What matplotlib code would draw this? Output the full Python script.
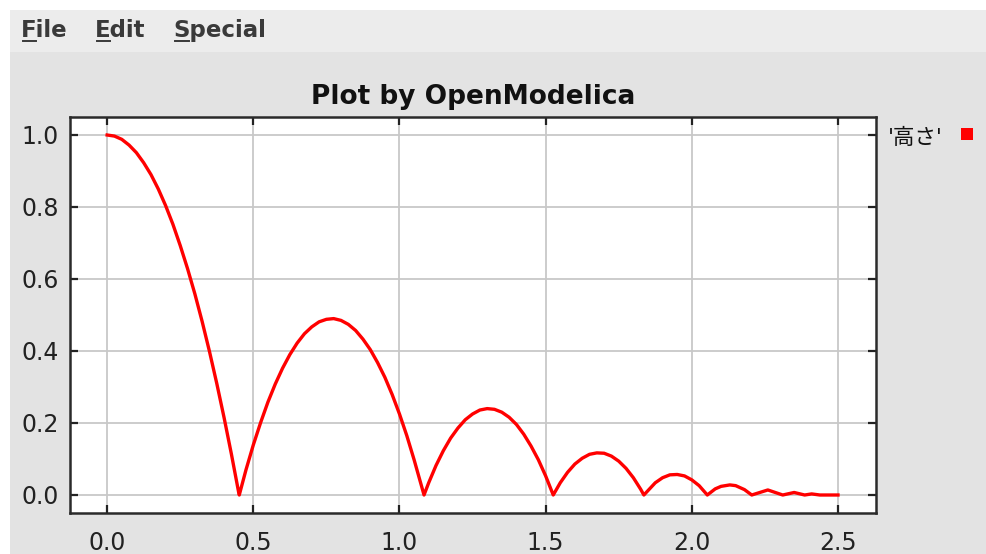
import matplotlib

matplotlib.use("Agg")
import matplotlib.pyplot as plt
from matplotlib.lines import Line2D
from matplotlib.patches import Rectangle

# Height of the bouncing ball
time = [
    0.000, 0.025, 0.050, 0.075, 0.100, 0.125, 0.150, 0.175, 0.200, 0.225, 0.250,
    0.275, 0.300, 0.325, 0.350, 0.375, 0.400, 0.425, 0.450, 0.452,
    0.475, 0.500, 0.525, 0.550, 0.575, 0.600, 0.625, 0.650, 0.675, 0.700, 0.725,
    0.750, 0.775, 0.800, 0.825, 0.850, 0.875, 0.900, 0.925, 0.950, 0.975, 1.000,
    1.025, 1.050, 1.075, 1.084,
    1.100, 1.125, 1.150, 1.175, 1.200, 1.225, 1.250, 1.275, 1.300, 1.325, 1.350,
    1.375, 1.400, 1.425, 1.450, 1.475, 1.500, 1.526,
    1.550, 1.575, 1.600, 1.625, 1.650, 1.675, 1.700, 1.725, 1.750, 1.775, 1.800,
    1.825, 1.836,
    1.875, 1.900, 1.925, 1.950, 1.975, 2.000, 2.025, 2.053,
    2.080, 2.100, 2.130, 2.150, 2.180, 2.205,
    2.260, 2.311, 2.350, 2.386, 2.410, 2.438, 2.500,
]
height = [
    1.000, 0.997, 0.988, 0.972, 0.951, 0.923, 0.890, 0.850, 0.804, 0.752, 0.693,
    0.629, 0.559, 0.482, 0.399, 0.310, 0.215, 0.114, 0.007, 0.000,
    0.070, 0.139, 0.201, 0.258, 0.308, 0.352, 0.390, 0.422, 0.448, 0.467, 0.481,
    0.488, 0.490, 0.485, 0.474, 0.457, 0.433, 0.404, 0.368, 0.327, 0.279, 0.225,
    0.165, 0.098, 0.026, 0.000,
    0.034, 0.082, 0.123, 0.158, 0.186, 0.209, 0.225, 0.236, 0.240, 0.238, 0.230,
    0.216, 0.196, 0.169, 0.136, 0.098, 0.053, 0.000,
    0.034, 0.063, 0.086, 0.102, 0.113, 0.117, 0.116, 0.108, 0.094, 0.074, 0.048,
    0.016, 0.000,
    0.034, 0.048, 0.056, 0.057, 0.053, 0.042, 0.026, 0.000,
    0.017, 0.024, 0.028, 0.026, 0.015, 0.000,
    0.014, 0.000, 0.007, 0.000, 0.003, 0.000, 0.000,
]
x_ticks = [0.0, 0.5, 1.0, 1.5, 2.0, 2.5]
y_ticks = [0.0, 0.2, 0.4, 0.6, 0.8, 1.0]
menu_items = ["File", "Edit", "Special"]
title = "Plot by OpenModelica"
legend_label = "'高さ'"

W, H = 986, 554
fig = plt.figure(figsize=(W / 100, H / 100), dpi=100, facecolor="white")


def px(x, y):
    """pixel (from top-left) -> figure fraction"""
    return x / W, 1 - y / H


# window background
fig.add_artist(Rectangle((10 / W, 0), 1, 1 - 52 / H, transform=fig.transFigure,
                         facecolor="#e3e3e3", edgecolor="none", zorder=0))
fig.add_artist(Rectangle((10 / W, 1 - 52 / H), 1, 42 / H, transform=fig.transFigure,
                         facecolor="#ececec", edgecolor="none", zorder=0))

# menu bar with underlined mnemonic letters
menu_x = [21, 95, 173]
fig.canvas.draw()
renderer = fig.canvas.get_renderer()
for label, mx in zip(menu_items, menu_x):
    fx, fy = px(mx, 37)
    fig.text(fx, fy, label, fontsize=16.5, fontweight="bold", color="#3a3a3a",
             family="DejaVu Sans", ha="left", va="baseline")
    first = fig.text(fx, fy, label[0], fontsize=16.5, fontweight="bold", alpha=0,
                     family="DejaVu Sans", ha="left", va="baseline")
    bb = first.get_window_extent(renderer)
    uy = 1 - 41 / H
    fig.add_artist(Line2D([(bb.x0 + 2) / W, (bb.x1 - 1) / W], [uy, uy],
                          transform=fig.transFigure, color="#3a3a3a", linewidth=1.4))

# plot area
left, right, top, bottom = 70, 876, 117, 513
ax = fig.add_axes([left / W, (H - bottom) / H, (right - left) / W, (bottom - top) / H])
ax.set_facecolor("white")
ax.plot(time, height, color="red", linewidth=2.4, solid_joinstyle="round")

ax.set_xlim(-0.127, 2.63)
ax.set_ylim(-0.05, 1.05)
ax.set_xticks(x_ticks)
ax.set_yticks(y_ticks)
ax.set_xticklabels([f"{v:.1f}" for v in x_ticks])
ax.set_yticklabels([f"{v:.1f}" for v in y_ticks])
ax.grid(True, color="#c8c8c8", linewidth=1.3)
ax.set_axisbelow(True)
ax.tick_params(direction="in", length=6, width=1.6, color="#222222",
               top=True, right=True, labelsize=17, labelcolor="#222222")
ax.tick_params(axis="y", pad=8)
ax.tick_params(axis="x", pad=13)
for s in ax.spines.values():
    s.set_color("#2a2a2a")
    s.set_linewidth(1.8)

ax.set_title(title, fontsize=19, fontweight="bold", color="#111111", pad=9,
             family="DejaVu Sans")

# legend to the right of the plot
lx, ly = px(888, 138)
fig.text(lx, ly, legend_label, fontsize=15.5, color="#111111",
         family=["DejaVu Sans", "Noto Sans CJK JP"], ha="left", va="center")
sx, sy = px(961, 140)
fig.add_artist(Rectangle((sx, sy), 12 / W, 12 / H, transform=fig.transFigure,
                         facecolor="red", edgecolor="none"))

fig.savefig("out.png", dpi=100, facecolor="white")
